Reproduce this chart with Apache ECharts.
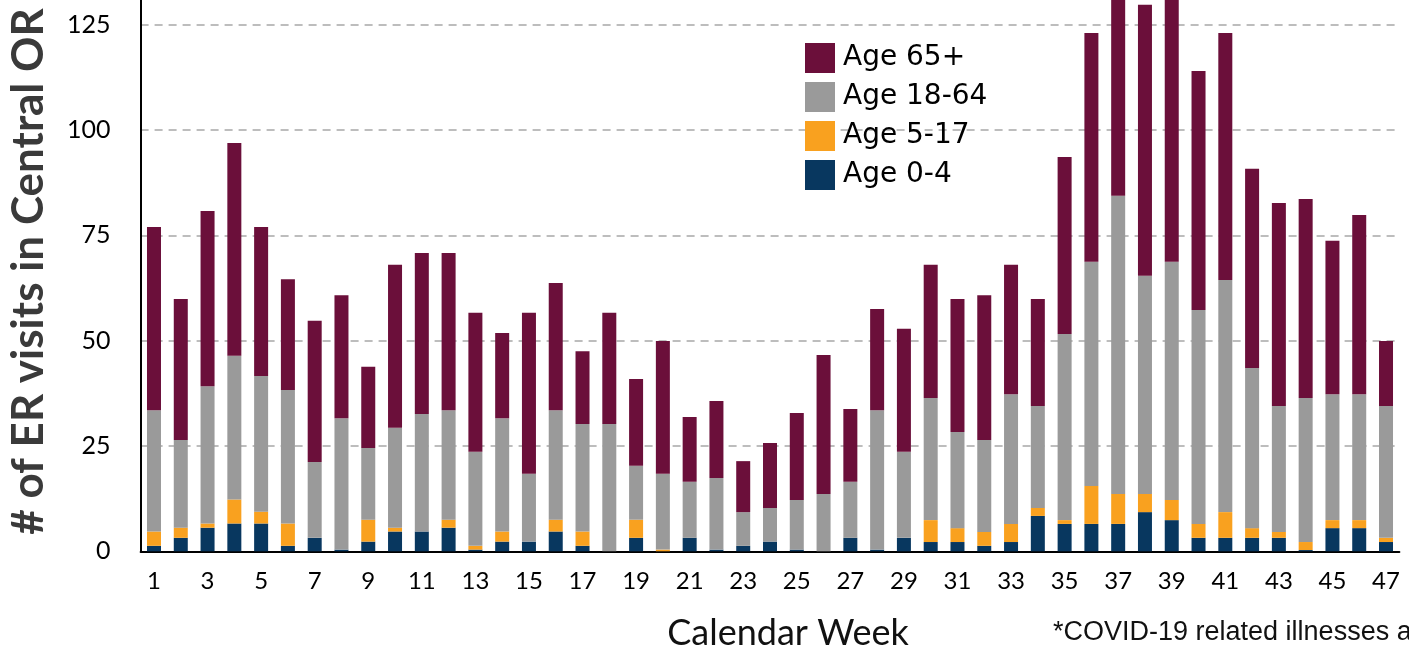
<!DOCTYPE html>
<html>
<head>
<meta charset="utf-8">
<script src="https://cdn.jsdelivr.net/npm/echarts@6/dist/echarts.min.js"></script>
<style>
html,body{margin:0;padding:0;background:#fff;overflow:hidden;width:1409px;height:650px;}
#chart{position:absolute;left:0;top:-6px;width:1409px;height:656px;}
</style>
</head>
<body>
<div id="chart"></div>
<script>
var weeks = [];
for (var w = 1; w <= 47; w++) weeks.push(String(w));

var age0_4 = [1.3,3.2,5.6,6.6,6.6,1.3,3.2,0.4,2.3,4.7,4.7,5.6,0.4,2.3,2.3,4.7,1.3,0,3.2,0,3.2,0.4,1.3,2.3,0.4,0,3.2,0.4,3.2,2.2,2.2,1.3,2.2,8.4,6.5,6.5,6.5,9.3,7.4,3.2,3.2,3.2,3.2,0.3,5.5,5.5,2.2];
var age5_17 = [3.4,2.4,1.0,5.7,2.8,5.3,0,0,5.2,0.9,0,1.9,0.9,2.4,0,2.8,3.4,0,4.3,0.4,0,0,0,0,0,0,0,0,0,5.2,3.3,3.3,4.3,1.9,0.9,9.0,7.1,4.3,4.8,3.3,6.1,2.3,1.4,1.9,1.9,1.9,1.0];
var age18_64 = [28.8,20.8,32.6,34.1,32.2,31.7,18.0,31.2,17.0,23.7,27.9,26.0,22.3,26.9,16.1,26.0,25.5,30.2,12.8,18.0,13.3,17.0,8.0,8.0,11.8,13.6,13.3,33.1,20.4,29.0,22.8,21.8,30.8,24.2,44.2,53.2,70.8,51.8,56.5,50.8,55.1,38.0,29.9,34.2,29.9,29.9,31.3];
var age65 = [43.5,33.5,41.6,50.5,35.4,26.3,33.5,29.2,19.3,38.7,38.2,37.3,33.0,20.2,38.2,30.2,17.3,26.4,20.6,31.5,15.4,18.3,12.1,15.4,20.6,33.0,17.3,24.0,29.2,31.6,31.6,34.4,30.7,25.4,42.0,54.3,55.6,64.3,73.3,56.7,58.6,47.3,48.2,47.2,36.4,42.5,15.4];

var yTicks = [0,25,50,75,100,125];

var chart = echarts.init(document.getElementById('chart'), null, {renderer:'canvas'});
var barW = 14;
var OFF = 6; // container is shifted up by this many pixels
function mk(name, data, color){
  return {name:name, type:'bar', stack:'total', data:data, barWidth:barW, clip:true,
    itemStyle:{color:color}, emphasis:{disabled:true}, animation:false};
}
chart.setOption({
  animation:false,
  backgroundColor:'#ffffff',
  grid:{left:140.6, right:9.6, top:0, bottom:98.7, containLabel:false},
  legend:{
    orient:'vertical', left:805, top:43 + OFF, padding:0,
    itemWidth:30, itemHeight:30, itemGap:9, icon:'rect',
    selectedMode:false,
    textStyle:{fontFamily:'DejaVu Sans', fontSize:28, color:'#000', padding:[0,0,0,3]},
    data:['Age 65+','Age 18-64','Age 5-17','Age 0-4']
  },
  xAxis:{
    type:'category', data:weeks, boundaryGap:true,
    axisLine:{show:true, lineStyle:{color:'#000', width:2}},
    axisTick:{show:false},
    axisLabel:{interval:1, fontFamily:'Lato', fontSize:24, color:'#000', margin:18},
    splitLine:{show:false}
  },
  yAxis:{
    type:'value', min:0, max:132.28, interval:25,
    axisLine:{show:true, lineStyle:{color:'#000', width:2}},
    axisTick:{show:false},
    axisLabel:{fontFamily:'Lato', fontSize:25, color:'#000', margin:30,
      formatter:function(v){ return yTicks.indexOf(v) >= 0 ? String(v) : ''; }},
    splitLine:{show:true, lineStyle:{color:'#bdbdbd', width:2, type:[8,6]}}
  },
  series:[
    mk('Age 0-4', age0_4, '#08375f'),
    mk('Age 5-17', age5_17, '#f9a11f'),
    mk('Age 18-64', age18_64, '#9a9a9a'),
    mk('Age 65+', age65, '#6b0f3a')
  ],
  graphic:[
    {type:'text', x:29, y:271.5 + OFF, rotation:Math.PI/2,
      style:{text:'# of ER visits in Central OR', fontFamily:'Lato', fontWeight:'bold', fontSize:44,
        fill:'#3a3a3a', textAlign:'center', textVerticalAlign:'middle'}},
    {type:'text', x:788, y:633 + OFF,
      style:{text:'Calendar Week', fontFamily:'Lato', fontSize:36, fill:'#111',
        textAlign:'center', textVerticalAlign:'middle'}},
    {type:'text', x:1053, y:633 + OFF,
      style:{text:'*COVID-19 related illnesses are defined', fontFamily:'Liberation Sans', fontSize:27, fill:'#111',
        textAlign:'left', textVerticalAlign:'middle'}}
  ]
});
</script>
</body>
</html>
